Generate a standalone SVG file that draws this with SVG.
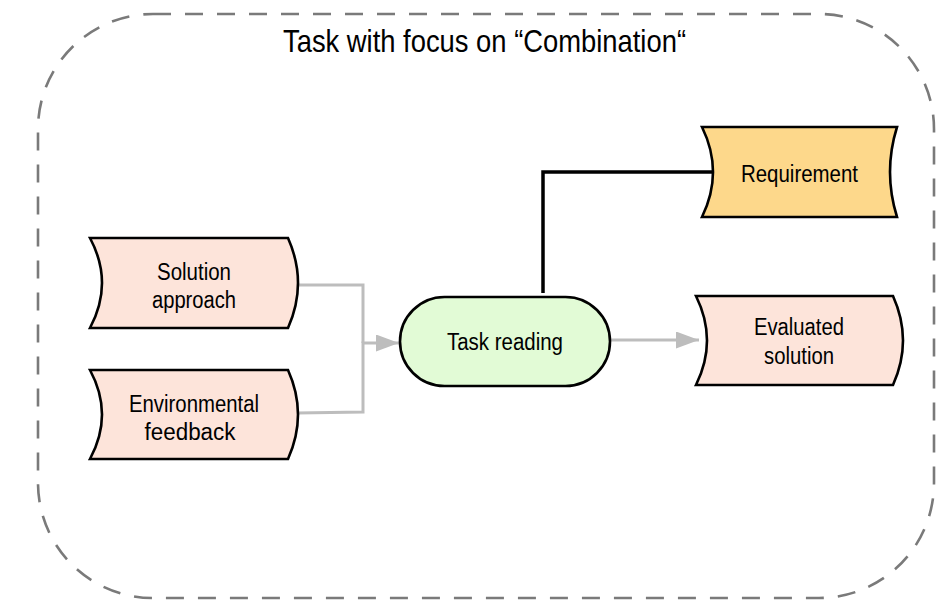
<svg xmlns="http://www.w3.org/2000/svg" width="950" height="601" viewBox="0 0 950 601">
<style>
.node{stroke:#000;stroke-width:2.6;stroke-linejoin:miter}
.pink{fill:#fde4da}
.lbl{font-family:"Liberation Sans",Arial,sans-serif;font-size:23px;fill:#000;text-anchor:middle}
.gray{fill:none;stroke:#bdbdbd;stroke-width:3}
.black{fill:none;stroke:#000;stroke-width:3.5}
</style>
<defs>
<marker id="arr" viewBox="0 0 23 17" refX="23" refY="8.5" markerWidth="23" markerHeight="17" markerUnits="userSpaceOnUse" orient="auto">
<path d="M0,0 L23,8.5 L0,17 Z" fill="#bdbdbd"/>
</marker>
</defs>
<rect id="frame" x="38" y="14" width="896" height="584" rx="115" ry="115" fill="none" stroke="#7a7a7a" stroke-width="2.6" stroke-dasharray="18 14"/>
<text x="484.5" y="52" font-family="'Liberation Sans',Arial,sans-serif" font-size="32" text-anchor="middle" textLength="403" lengthAdjust="spacingAndGlyphs">Task with focus on “Combination“</text>
<g id="connectors">
<polyline class="gray" points="297,285 363,285 363,343"/>
<polyline class="gray" points="297,413 363,412 363,343 399,343" marker-end="url(#arr)"/>
<line class="gray" x1="610" y1="340" x2="699" y2="340" marker-end="url(#arr)"/>
<polyline class="black" points="543,293 543,172 714,172"/>
</g>
<g id="solution-approach">
<path class="node pink" d="M90,238 L288,238 Q308,283 288,328 L90,328 Q114,283 90,238 Z"/>
<text class="lbl" x="194" y="280" textLength="74" lengthAdjust="spacingAndGlyphs">Solution</text>
<text class="lbl" x="194" y="308" textLength="84" lengthAdjust="spacingAndGlyphs">approach</text>
</g>
<g id="environmental-feedback">
<path class="node pink" d="M90,370 L288,370 Q308,414.5 288,459 L90,459 Q114,414.5 90,370 Z"/>
<text class="lbl" x="194" y="412" textLength="130" lengthAdjust="spacingAndGlyphs">Environmental</text>
<text class="lbl" x="190" y="440" textLength="91" lengthAdjust="spacingAndGlyphs">feedback</text>
</g>
<g id="task-reading">
<rect class="node" x="400" y="297" width="210" height="89" rx="44.5" ry="44.5" fill="#e2fbd6"/>
<text class="lbl" x="505" y="350" textLength="116" lengthAdjust="spacingAndGlyphs">Task reading</text>
</g>
<g id="requirement">
<path class="node" fill="#fdd88b" d="M702,127 L897,127 Q883,172 897,217 L702,217 Q724,172 702,127 Z"/>
<text class="lbl" x="799.5" y="182" textLength="117" lengthAdjust="spacingAndGlyphs">Requirement</text>
</g>
<g id="evaluated-solution">
<path class="node pink" d="M696,296 L893,296 Q913,340.5 893,385 L696,385 Q718,340.5 696,296 Z"/>
<text class="lbl" x="799" y="335" textLength="90" lengthAdjust="spacingAndGlyphs">Evaluated</text>
<text class="lbl" x="799" y="364" textLength="70" lengthAdjust="spacingAndGlyphs">solution</text>
</g>
</svg>
